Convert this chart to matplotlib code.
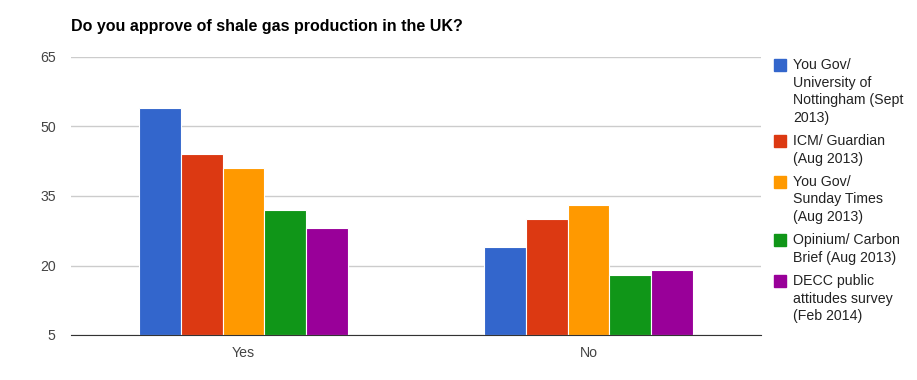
import numpy as np
import matplotlib.pyplot as plt

plt.rcParams['font.family'] = ['Liberation Sans', 'DejaVu Sans']

categories = ['Yes', 'No']
series_names = [
    'You Gov/\nUniversity of\nNottingham (Sept\n2013)',
    'ICM/ Guardian\n(Aug 2013)',
    'You Gov/\nSunday Times\n(Aug 2013)',
    'Opinium/ Carbon\nBrief (Aug 2013)',
    'DECC public\nattitudes survey\n(Feb 2014)',
]
values = [
    [54, 24],
    [44, 30],
    [41, 33],
    [32, 18],
    [28, 19],
]
colors = ['#3366cc', '#dc3912', '#ff9900', '#109618', '#990099']
yticks = [5, 20, 35, 50, 65]

W, H = 917, 380
fig = plt.figure(figsize=(W / 100, H / 100), dpi=100)
ax = fig.add_axes([71 / W, 45 / H, 690 / W, 278 / H])

x = np.arange(len(categories))
bw = 0.1212
for i, (vals, c) in enumerate(zip(values, colors)):
    pos = x + (i - 2) * bw
    ax.bar(pos, np.array(vals) - 5, bottom=5, width=bw, color=c,
           edgecolor='white', linewidth=0.8, zorder=3)

ax.set_xlim(-0.5, 1.5)
ax.set_ylim(5, 65)
ax.set_yticks(yticks)
ax.set_yticklabels([str(t) for t in yticks])
ax.set_xticks(x)
ax.set_xticklabels(categories)
ax.grid(axis='y', color='#cccccc', linewidth=1, zorder=0)
for s in ['top', 'right', 'left']:
    ax.spines[s].set_visible(False)
ax.spines['bottom'].set_color('#333333')
ax.spines['bottom'].set_zorder(4)
ax.tick_params(axis='both', length=0, labelsize=10.2, colors='#444444')
ax.tick_params(axis='y', pad=11)
ax.tick_params(axis='x', pad=8)

fig.text(71 / W, 1 - 27 / H, 'Do you approve of shale gas production in the UK?',
         fontsize=11.5, fontweight='bold', color='black', va='center', ha='left')

# legend drawn by hand, google charts style
line_h = 17.7
y = 65
for name, c in zip(series_names, colors):
    lines = name.split('\n')
    fig.patches.append(plt.Rectangle((774 / W, 1 - (y + 6) / H), 12 / W, 12 / H,
                                     transform=fig.transFigure, color=c))
    for j, ln in enumerate(lines):
        fig.text(793 / W, 1 - (y + j * line_h) / H, ln, fontsize=10.2,
                 color='#222222', va='center', ha='left')
    y += (len(lines) - 1) * line_h + 23

fig.savefig('out.png', dpi=100)
